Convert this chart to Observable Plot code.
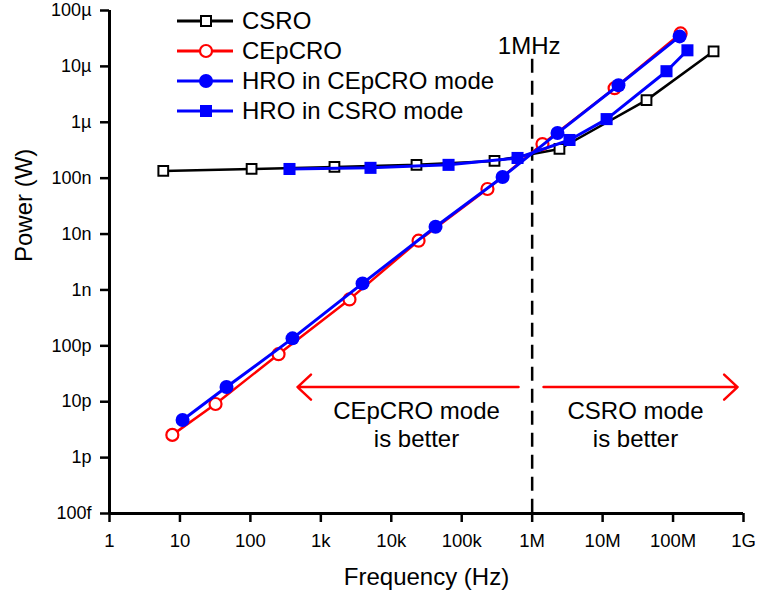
<!DOCTYPE html>
<html><head><meta charset="utf-8">
<script src="https://cdn.jsdelivr.net/npm/d3@7"></script>
<script src="https://cdn.jsdelivr.net/npm/@observablehq/plot@0.6"></script>
<style>
body{margin:0;background:#fff;}
#wrap{position:relative;width:759px;height:599px;font-family:"Liberation Sans",Arial,sans-serif;}
#legend{position:absolute;left:177px;top:6px;}
.row{display:flex;align-items:center;height:30px;font-size:24px;line-height:30px;color:#000;white-space:nowrap;}
.row svg{margin-right:9px;display:block}
</style></head><body><div id="wrap"></div>
<script>
// ---- data ----
const csroFreq  = [5.8, 104, 1.56e3, 22.8e3, 292e3, 2.44e6, 42e6, 376e6];
const csroPower = [135e-9, 146e-9, 159e-9, 173e-9, 203e-9, 333e-9, 2.49e-6, 18.6e-6];

const cepcroFreq  = [7.8, 32, 251, 2.55e3, 24.4e3, 232e3, 1.40e6, 14.8e6, 128e6];
const cepcroPower = [2.55e-12, 9.1e-12, 70.8e-12, 677e-12, 7.6e-9, 64e-9, 408e-9, 4.07e-6, 38.9e-6];

const hroCepFreq  = [10.9, 45.8, 396, 3.91e3, 42.5e3, 380e3, 2.29e6, 16.8e6, 124e6];
const hroCepPower = [4.72e-12, 18.3e-12, 136e-12, 1.31e-9, 13.5e-9, 105e-9, 641e-9, 4.6e-6, 34.4e-6];

const hroCsFreq  = [359, 5.07e3, 65e3, 620e3, 3.39e6, 11.4e6, 80.7e6, 160e6];
const hroCsPower = [146e-9, 153e-9, 173e-9, 230e-9, 482e-9, 1.14e-6, 8.2e-6, 19.4e-6];

const seriesNames = ["CSRO", "CEpCRO", "HRO in CEpCRO mode", "HRO in CSRO mode"];

const xTicks = [1, 10, 100, 1e3, 1e4, 1e5, 1e6, 1e7, 1e8, 1e9];
const xTickLabels = ["1", "10", "100", "1k", "10k", "100k", "1M", "10M", "100M", "1G"];
const yTicks = [1e-13, 1e-12, 1e-11, 1e-10, 1e-9, 1e-8, 1e-7, 1e-6, 1e-5, 1e-4];
const yTickLabels = ["100f", "1p", "10p", "100p", "1n", "10n", "100n", "1µ", "10µ", "100µ"];

const boundaryFreq = 1e6;
const boundaryTop = 1.34e-5;
const arrowLeft = {x1: 640e3, x2: 467, y: 18.3e-12};
const arrowRight = {x1: 1.45e6, x2: 823e6, y: 18.3e-12};
const noteLeft = {x: 22.8e3, y: 3.95e-12, text: "CEpCRO mode\nis better"};
const noteRight = {x: 29.3e6, y: 3.95e-12, text: "CSRO mode\nis better"};
const mhzLabel = {x: 1e6, y: 1.64e-5, text: "1MHz"};

// ---- build tables ----
const toRows = (fs, ps) => fs.map((f, i) => ({f, p: ps[i]}));
const csro = toRows(csroFreq, csroPower);
const cepcro = toRows(cepcroFreq, cepcroPower);
const hroCep = toRows(hroCepFreq, hroCepPower);
const hroCs = toRows(hroCsFreq, hroCsPower);

const font = "Liberation Sans, Arial, sans-serif";

const chart = Plot.plot({
  width: 759, height: 599,
  marginLeft: 109, marginRight: 16, marginTop: 10, marginBottom: 86,
  style: {fontFamily: font, fontSize: "18px", color: "black", background: "white", overflow: "visible"},
  x: {type: "log", domain: [1, 1e9]},
  y: {type: "log", domain: [1e-13, 1e-4]},
  marks: [
    Plot.axisX({ticks: xTicks, tickFormat: d => xTickLabels[xTicks.indexOf(d)], tickSize: 9, tickPadding: 11, strokeWidth: 2.5, fontSize: 18.5, label: null}),
    Plot.axisY({ticks: yTicks, tickFormat: d => yTickLabels[yTicks.indexOf(d)], tickSize: 9, tickPadding: 9, strokeWidth: 2.5, fontSize: 18, label: null}),
    Plot.ruleX([1], {stroke: "black", strokeWidth: 3}),
    Plot.ruleY([1e-13], {stroke: "black", strokeWidth: 3}),
    Plot.text(["Frequency (Hz)"], {frameAnchor: "bottom", dy: 64, fontSize: 24, lineAnchor: "middle"}),
    Plot.text(["Power (W)"], {frameAnchor: "left", dx: -85, rotate: -90, fontSize: 24, lineAnchor: "middle"}),
    // boundary
    Plot.ruleX([boundaryFreq], {y1: boundaryTop, y2: 1e-13, stroke: "black", strokeWidth: 2.5, strokeDasharray: "14,8"}),
    Plot.text([mhzLabel], {x: "x", y: "y", text: "text", fontSize: 24, dx: -3, lineAnchor: "bottom"}),
    // arrows and notes
    Plot.arrow([arrowLeft, arrowRight], {x1: "x1", x2: "x2", y1: "y", y2: "y", stroke: "#ff0000", strokeWidth: 2.5, headLength: 11, headAngle: 86}),
    Plot.text([noteLeft, noteRight], {x: "x", y: "y", text: "text", fontSize: 24, lineHeight: 1.17, lineAnchor: "middle"}),
    // series
    Plot.line(csro, {x: "f", y: "p", stroke: "black", strokeWidth: 2.5}),
    Plot.dot(csro, {x: "f", y: "p", symbol: "square", r: 5.5, fill: "white", stroke: "black", strokeWidth: 2}),
    Plot.line(cepcro, {x: "f", y: "p", stroke: "#ff0000", strokeWidth: 2.5}),
    Plot.dot(cepcro, {x: "f", y: "p", symbol: "circle", r: 6, fill: "white", stroke: "#ff0000", strokeWidth: 2.2}),
    Plot.line(hroCs, {x: "f", y: "p", stroke: "#0000ff", strokeWidth: 3}),
    Plot.dot(hroCs, {x: "f", y: "p", symbol: "square", r: 6.8, fill: "#0000ff"}),
    Plot.line(hroCep, {x: "f", y: "p", stroke: "#0000ff", strokeWidth: 3}),
    Plot.dot(hroCep, {x: "f", y: "p", symbol: "circle", r: 7, fill: "#0000ff"})
  ]
});

const wrap = document.getElementById("wrap");
wrap.appendChild(chart);

// legend
const legendStyles = [
  {color: "black", marker: "square", fill: "white"},
  {color: "#ff0000", marker: "circle", fill: "white"},
  {color: "#0000ff", marker: "circle", fill: "#0000ff"},
  {color: "#0000ff", marker: "square", fill: "#0000ff"}
];
const legend = document.createElement("div");
legend.id = "legend";
seriesNames.forEach((name, i) => {
  const s = legendStyles[i];
  let m;
  if (s.marker === "square") {
    const side = s.fill === "white" ? 10 : 12;
    m = `<rect x="${29 - side / 2}" y="${15 - side / 2}" width="${side}" height="${side}" fill="${s.fill}" stroke="${s.color}" stroke-width="${s.fill === "white" ? 2 : 0}"/>`;
  } else {
    const r = s.fill === "white" ? 6 : 7;
    m = `<circle cx="29" cy="15" r="${r}" fill="${s.fill}" stroke="${s.color}" stroke-width="${s.fill === "white" ? 2.2 : 0}"/>`;
  }
  const row = document.createElement("div");
  row.className = "row";
  row.innerHTML = `<svg width="56" height="30"><line x1="0" x2="56" y1="15" y2="15" stroke="${s.color}" stroke-width="3"/>${m}</svg><span>${name}</span>`;
  legend.appendChild(row);
});
wrap.appendChild(legend);
</script>
</body></html>
